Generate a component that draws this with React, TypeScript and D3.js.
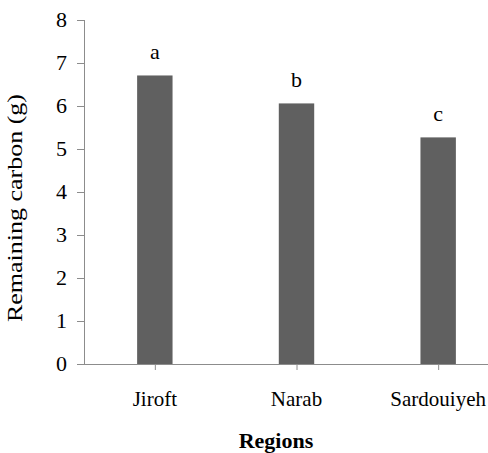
import React from "react";
import * as d3 from "d3";

const categories = ["Jiroft", "Narab", "Sardouiyeh"];
const values = [6.71, 6.06, 5.27];
const letters = ["a", "b", "c"];
const yTicks = [0, 1, 2, 3, 4, 5, 6, 7, 8];

export default function App() {
  const W = 488, H = 453;
  const x0 = 84, x1 = 509, yTop = 20, yBot = 364;
  const x = d3.scaleBand<string>().domain(categories).range([x0, x1]).paddingInner(0.75).paddingOuter(0.375);
  const y = d3.scaleLinear().domain([0, 8]).range([yBot, yTop]);
  const ts = { fontFamily: "Liberation Serif" };
  const axisColor = "#8c8c8c";
  return (
    <svg width={W} height={H} style={{ position: "absolute", left: 0, top: 0 }}>
      <rect width={W} height={H} fill="#fff" />
      {categories.map((c, i) => (
        <g key={c}>
          <rect x={x(c)!} y={y(values[i])} width={x.bandwidth()} height={yBot - y(values[i])} fill="#606060" />
          <text style={ts} x={x(c)! + x.bandwidth() / 2} y={y(values[i]) - 16} textAnchor="middle" fontSize={22} fill="#000">
            {letters[i]}
          </text>
          <line x1={x(c)! + x.bandwidth() / 2 + 0.5} x2={x(c)! + x.bandwidth() / 2 + 0.5} y1={yBot} y2={yBot + 6} stroke={axisColor} />
          <text style={ts} x={x(c)! + x.bandwidth() / 2} y={406} textAnchor="middle" fontSize={21} fill="#000">
            {c}
          </text>
        </g>
      ))}
      <line x1={x0 + 0.5} x2={x0 + 0.5} y1={yTop} y2={yBot} stroke={axisColor} />
      <line x1={x0} x2={x1} y1={yBot + 0.5} y2={yBot + 0.5} stroke={axisColor} />
      {yTicks.map((t) => (
        <g key={t}>
          <line x1={x0 - 7} x2={x0} y1={Math.round(y(t)) + 0.5} y2={Math.round(y(t)) + 0.5} stroke={axisColor} />
          <text style={ts} x={67} y={y(t)} dy="0.33em" textAnchor="end" fontSize={22} fill="#000">
            {t}
          </text>
        </g>
      ))}
      <text
        style={ts}
        transform={`translate(22,208) rotate(-90)`}
        textAnchor="middle"
        fontSize={21}
        fill="#000"
        textLength={228}
        lengthAdjust="spacingAndGlyphs"
      >
        Remaining carbon (g)
      </text>
      <text style={ts} x={276} y={448} textAnchor="middle" fontSize={22} fontWeight="bold" fill="#000">
        Regions
      </text>
    </svg>
  );
}
